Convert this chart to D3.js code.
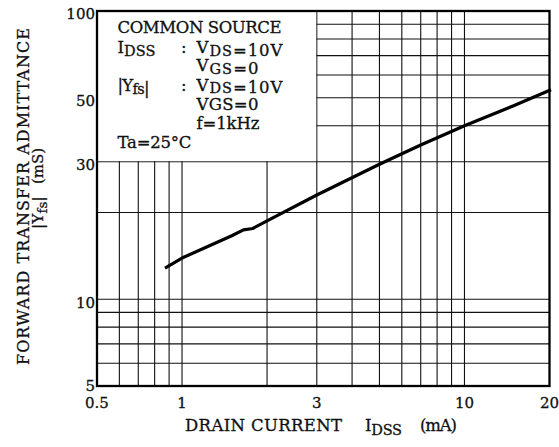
<!DOCTYPE html>
<html><head><meta charset="utf-8">
<script src="https://cdn.jsdelivr.net/npm/d3@7"></script>
<style>body{margin:0;background:#fff}svg{display:block}text{font-family:"DejaVu Serif",serif;fill:#111;stroke:#111;stroke-width:0.3px}</style>
</head><body><svg id="c" width="559" height="447"></svg>
<script>
// ---- data ----
const idss = [0.88, 1, 1.5, 1.65, 1.78, 2, 3, 5, 7, 10, 15, 20];           // mA
const yfs  = [12.9, 13.9, 16.6, 17.4, 17.6, 18.7, 23, 29.4, 34.3, 40, 47, 53]; // mS
const xTicks = [0.5, 1, 3, 10, 20];
const xTickLabels = ["0.5", "1", "3", "10", "20"];
const yTicks = [5, 10, 30, 50, 100];
const yTickLabels = ["5", "10", "30", "50", "100"];
const xGrid = [0.6, 0.7, 0.8, 0.9, 1, 2, 3, 4, 5, 6, 7, 8, 9, 10];
const yGrid = [6, 7, 8, 9, 10, 20, 30, 40, 50, 60, 70, 80, 90];
const xDomain = [0.5, 20], yDomain = [5, 100];
const boxX = [0.5, 3], boxY = [30, 100];

// ---- layout ----
const L = 97, R = 549.5, T = 11, B = 386;
const svg = d3.select("#c");
const x = d3.scaleLog().domain(xDomain).range([L, R]);
const y = d3.scaleLog().domain(yDomain).range([B, T]);

function fit(sel, w) {
  const n = sel.text().length;
  const len = sel.node().getComputedTextLength();
  if (n > 1) sel.attr("letter-spacing", ((w - len) / (n - 1)).toFixed(3));
  return sel;
}

// grid
const g = svg.append("g").attr("stroke", "#111").attr("stroke-width", 1.1).attr("fill", "none");
g.selectAll("line.v").data(xGrid).join("line").attr("class", "v")
  .attr("x1", d => x(d)).attr("x2", d => x(d)).attr("y1", T).attr("y2", B);
g.selectAll("line.h").data(yGrid).join("line").attr("class", "h")
  .attr("y1", d => y(d)).attr("y2", d => y(d)).attr("x1", L).attr("x2", R);

// legend box (white area covering grid)
svg.append("rect").attr("x", x(boxX[0]) + 1).attr("y", y(boxY[1]) + 1)
  .attr("width", x(boxX[1]) - x(boxX[0]) - 1.6).attr("height", y(boxY[0]) - y(boxY[1]) - 1.6)
  .attr("fill", "#fff");

// curve
const pts = idss.map((d, i) => [d, yfs[i]]);
svg.append("path").datum(pts)
  .attr("d", d3.line().x(d => x(d[0])).y(d => y(d[1])))
  .attr("fill", "none").attr("stroke", "#000").attr("stroke-width", 3.2)
  .attr("stroke-linejoin", "round").attr("stroke-linecap", "square");

// frame
svg.append("rect").attr("x", L).attr("y", T).attr("width", R - L).attr("height", B - T)
  .attr("fill", "none").attr("stroke", "#000").attr("stroke-width", 2.3);

// tick labels
const fsTick = 15;
svg.selectAll("text.xt").data(xTicks).join("text").attr("class", "xt")
  .attr("x", d => x(d)).attr("y", B + 22).attr("text-anchor", "middle")
  .attr("font-size", fsTick).text((d, i) => xTickLabels[i]);
svg.selectAll("text.yt").data(yTicks).join("text").attr("class", "yt")
  .attr("x", L - 2).attr("y", (d, i) => y(d) + (i === 0 ? 4.5 : 8.3)).attr("text-anchor", "end")
  .attr("font-size", fsTick).text((d, i) => yTickLabels[i]);

// legend text
const fs = 16.5, fsSub = 14.5;
function line(xp, yp, parts, w) {
  const t = svg.append("text").attr("x", xp).attr("y", yp).attr("font-size", fs);
  parts.forEach(p => {
    if (typeof p === "string") t.append("tspan").text(p);
    else t.append("tspan").attr("font-size", p.s ? fsSub : fs).attr("dy", p.dy).text(p.s);
  });
  if (w) fit(t, w);
  return t;
}
line(117.5, 32.5, ["COMMON SOURCE"], 164);
line(117.5, 52.5, ["I", {s: "DSS", dy: 3}], 38);
line(181, 52.5, [":"]);
line(196.5, 52.5, ["V", {s: "DS", dy: 3}, {s: "", dy: -3}, "=10V"], 86);
line(196.5, 71, ["V", {s: "GS", dy: 3}, {s: "", dy: -3}, "=0"], 62);
line(117.5, 90.5, ["|Y", {s: "fs", dy: 3}, {s: "", dy: -3}, "|"], 32);
line(181, 90.5, [":"]);
line(196.5, 90.5, ["V", {s: "DS", dy: 2.5}, {s: "", dy: -2.5}, "=10V"], 86);
line(196.5, 110, ["VGS=0"], 62);
line(196.5, 128.5, ["f=1kHz"], 63);
line(117.5, 147.5, ["Ta=25°C"], 74);

// x axis title
const fsT = 16.5;
fit(svg.append("text").attr("x", 185).attr("y", 431).attr("font-size", fsT).text("DRAIN CURRENT"), 157);
const ti = svg.append("text").attr("x", 365).attr("y", 431).attr("font-size", fsT);
ti.append("tspan").text("I");
ti.append("tspan").attr("font-size", 14.5).attr("dy", 4).text("DSS");
fit(ti, 37);
fit(svg.append("text").attr("x", 420).attr("y", 431).attr("font-size", fsT).text("(mA)"), 37);

// y axis title (rotated)
const gy = svg.append("g").attr("transform", "rotate(-90)");
fit(gy.append("text").attr("x", -365).attr("y", 29).attr("font-size", 16)
  .text("FORWARD TRANSFER ADMITTANCE"), 337);
const ty = gy.append("text").attr("x", -229).attr("y", 43).attr("font-size", 15.5);
ty.append("tspan").text("|Y");
ty.append("tspan").attr("font-size", 13.5).attr("dy", 4).text("fs");
ty.append("tspan").attr("dy", -4).text("|");
gy.append("text").attr("x", -184).attr("y", 43).attr("font-size", 15).text("(mS)");
</script></body></html>
